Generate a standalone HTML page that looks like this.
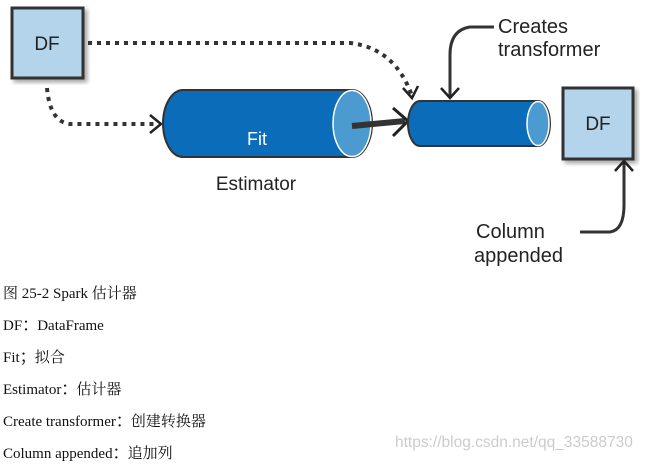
<!DOCTYPE html>
<html><head><meta charset="utf-8"><style>
body{margin:0;width:647px;height:464px;background:#fff;overflow:hidden;position:relative}
.t{position:absolute;left:3px;font-family:"Liberation Serif","Noto Serif CJK SC",serif;font-size:15px;color:#111;white-space:nowrap}
.c{font-family:"Noto Sans CJK SC",sans-serif}
svg text{font-family:"Liberation Sans",sans-serif}
</style></head><body>
<svg width="647" height="280" style="position:absolute;left:0;top:0">
<defs><filter id="s"><feDropShadow dx="3" dy="3" stdDeviation="2" flood-color="#000" flood-opacity="0.35"/></filter></defs>
<rect x="12" y="8" width="71" height="70" fill="#b3d4ea" stroke="#333" stroke-width="3" filter="url(#s)"/>
<text x="47" y="50" font-size="19" text-anchor="middle" fill="#222">DF</text>
<path d="M88 43 L350 43 Q395 48 412 96" fill="none" stroke="#333" stroke-width="4" stroke-dasharray="4 5"/>
<path d="M403 88 L412 98 L418 86" fill="none" stroke="#222" stroke-width="2.5"/>
<path d="M47 88 Q50 122 70 124 L158 124" fill="none" stroke="#333" stroke-width="4" stroke-dasharray="4 5"/>
<path d="M150 115 L161 124 L150 133" fill="none" stroke="#222" stroke-width="2.5"/>
<path d="M183 90 L352 90 A20 33.5 0 0 1 352 157 L183 157 A20 33.5 0 0 1 183 90Z" fill="#0b6cb9" stroke="#333" stroke-width="2"/>
<ellipse cx="352" cy="123.5" rx="19" ry="33" fill="#4b9bd0" stroke="#fff" stroke-width="1.5"/>
<text x="257" y="145" font-size="18" fill="#fff" text-anchor="middle">Fit</text>
<text x="256" y="190" font-size="19" fill="#222" text-anchor="middle">Estimator</text>
<path d="M352 126 L405 121" stroke="#333" stroke-width="6"/>
<path d="M393 108 L408 121 L393 136" fill="none" stroke="#222" stroke-width="3"/>
<path d="M420 101 L538 101 A12 22.5 0 0 1 538 146 L420 146 A12 22.5 0 0 1 420 101Z" fill="#0b6cb9" stroke="#333" stroke-width="2"/>
<ellipse cx="538" cy="123.5" rx="11" ry="22" fill="#4b9bd0" stroke="#fff" stroke-width="1.5"/>
<rect x="563" y="88" width="70" height="71" fill="#b3d4ea" stroke="#333" stroke-width="3" filter="url(#s)"/>
<text x="598" y="130" font-size="19" text-anchor="middle" fill="#222">DF</text>
<text x="498" y="33" font-size="20" fill="#222">Creates</text>
<text x="498" y="56" font-size="20" fill="#222">transformer</text>
<path d="M494 27 L470 27 Q450 30 450 55 L450 97" fill="none" stroke="#333" stroke-width="3"/>
<path d="M441 88 L450 98 L459 88" fill="none" stroke="#222" stroke-width="2.5"/>
<text x="476" y="238" font-size="20" fill="#222">Column</text>
<text x="474" y="262" font-size="20" fill="#222">appended</text>
<path d="M580 232 L610 232 Q624 230 624 205 L624 162" fill="none" stroke="#333" stroke-width="3"/>
<path d="M615 171 L624 161 L633 171" fill="none" stroke="#222" stroke-width="2.5"/>
</svg>
<div class="t" style="top:282px">图 25-2 Spark 估计器</div>
<div class="t" style="top:314px">DF<span class="c">：</span>DataFrame</div>
<div class="t" style="top:346px">Fit<span class="c">；</span>拟合</div>
<div class="t" style="top:378px">Estimator<span class="c">：</span>估计器</div>
<div class="t" style="top:410px">Create transformer<span class="c">：</span>创建转换器</div>
<div class="t" style="top:442px">Column appended<span class="c">：</span>追加列</div>
<div style="position:absolute;left:395px;top:434px;font-family:'Liberation Sans',sans-serif;font-size:15.5px;color:#ccc">https://blog.csdn.net/qq_33588730</div>
</body></html>
